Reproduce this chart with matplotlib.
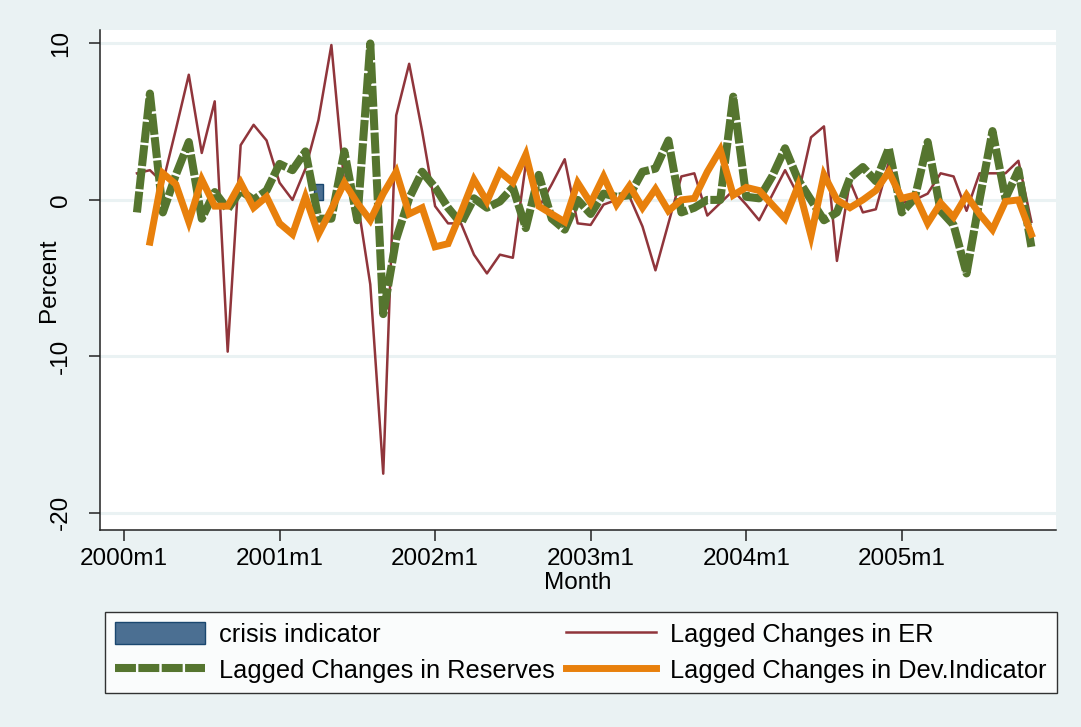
import numpy as np
import pandas as pd
import matplotlib
matplotlib.use("Agg")
import matplotlib.pyplot as plt
from matplotlib.patches import Patch
from matplotlib.lines import Line2D

plt.rcParams['font.family'] = ['Liberation Sans', 'DejaVu Sans']

# %% Donnees mensuelles (2000m2 - 2005m11)
months = pd.period_range('2000-02', '2005-11', freq='M')
# index mensuel, 0 = 2000m1
t = np.array((months.year - 2000) * 12 + months.month - 1)

# variations retardees du taux de change
er = [1.7, 1.9, 1.1, 4.5, 8.0, 3.0, 6.3, -9.7, 3.5, 4.8, 3.8, 1.1,
      0.0, 2.0, 5.1, 9.9, 1.0, 0.0, -5.4, -17.5, 5.4, 8.7, 4.4, -0.4,
      -1.5, -1.5, -3.5, -4.7, -3.5, -3.7, 2.3, -0.5, 1.0, 2.6, -1.5, -1.6,
      -0.3, 0.0, 0.2, -1.7, -4.5, -1.5, 1.5, 1.7, -1.0, -0.2, 0.6, -0.3,
      -1.3, 0.3, 1.9, 0.3, 4.0, 4.7, -3.9, 1.2, -0.8, -0.6, 2.4, -0.2,
      0.0, 0.4, 1.7, 1.5, -0.7, 1.7, 1.7, 1.7, 2.5, -1.4]

# variations retardees des reserves
reserves = [-0.8, 6.8, -0.8, 1.6, 3.7, -1.2, 0.5, -0.6, 0.6, 0.0, 0.6, 2.3,
            1.9, 3.1, -1.2, -1.2, 3.1, -1.3, 10.0, -7.3, -2.5, 0.1, 1.8, 0.8,
            -0.5, -1.5, 0.1, -0.5, -0.1, 0.8, -1.8, 1.6, -1.2, -1.9, 0.0, -0.9,
            0.4, 0.2, 0.3, 1.8, 2.0, 3.8, -0.8, -0.5, 0.0, 0.0, 6.6, 0.2,
            0.1, 1.5, 3.3, 1.3, 0.0, -1.3, -0.8, 1.4, 2.1, 1.2, 3.3, -0.8,
            0.1, 3.7, -0.7, -1.6, -4.7, 0.0, 4.4, 0.1, 1.9, -3.0]

# variations retardees de l'indicateur de deviation (debut 2000m3)
dev = [-2.7, 1.7, 1.0, -1.4, 1.3, -0.4, -0.4, 1.1, -0.5, 0.2, -1.5,
       -2.2, 0.2, -2.2, -0.6, 1.1, -0.2, -1.3, 0.4, 1.8, -0.9, -0.5, -3.0,
       -2.8, -0.8, 1.3, -0.1, 1.8, 1.1, 2.9, -0.4, -0.9, -1.4, 1.1, -0.2,
       1.5, -0.3, 0.9, -0.5, 0.7, -0.7, 0.0, 0.1, 1.8, 3.2, 0.3, 0.8,
       0.6, -0.3, -1.2, 0.9, -2.3, 1.6, 0.0, -0.5, 0.0, 0.6, 1.8, 0.1,
       0.3, -1.5, -0.2, -1.1, 0.3, -0.9, -1.9, -0.1, 0.0, -2.2]

# indicateur de crise
crisis_months = [pd.Period('2001-04', freq='M')]
crisis_vals = [1]
tc = [(p.year - 2000) * 12 + p.month - 1 for p in crisis_months]

xtick_pos = [0, 12, 24, 36, 48, 60]
xtick_labels = ['2000m1', '2001m1', '2002m1', '2003m1', '2004m1', '2005m1']
ytick_pos = [-20, -10, 0, 10]

# %% Couleurs
navy_fill = '#4b6f92'
navy = '#1a476f'
maroon = '#90353b'
green = '#55752f'
orange = '#e8800c'
bg = '#eaf2f3'

# %% Graphique
W, H = 1081, 727
fig = plt.figure(figsize=(W / 100, H / 100), dpi=100, facecolor=bg)
ax = fig.add_axes([100 / W, 1 - 530 / H, 956 / W, 500 / H])
ax.set_facecolor('white')

ax.bar(tc, crisis_vals, width=0.75, color=navy_fill, edgecolor=navy, lw=1, zorder=2)
ax.plot(t, er, color=maroon, lw=1.8, zorder=3)
ax.plot(t, reserves, color=green, lw=5.8, ls=(0, (2.6, 0.3)),
        dash_capstyle='butt', zorder=4)
ax.plot(t[1:], dev, color=orange, lw=5.0, solid_joinstyle='miter', zorder=5)

ax.set_xlim(-1.85, 71.9)
ax.set_ylim(-21.1, 10.86)
ax.set_xticks(xtick_pos)
ax.set_xticklabels(xtick_labels)
ax.set_yticks(ytick_pos)
ax.set_yticklabels([str(v) for v in ytick_pos])
for lab in ax.get_yticklabels():
    lab.set_rotation(90)
    lab.set_va('center')

ax.yaxis.grid(True, color=bg, lw=2.2)
ax.set_axisbelow(True)
for s in ['top', 'right']:
    ax.spines[s].set_visible(False)
for s in ['left', 'bottom']:
    ax.spines[s].set_color('#222222')
    ax.spines[s].set_linewidth(1.1)
ax.tick_params(axis='both', direction='out', length=8, width=1.1, colors='#222222',
               labelsize=17.5, labelcolor='black')
ax.tick_params(axis='y', pad=12)
ax.tick_params(axis='x', pad=5)

ax.set_xlabel('Month', fontsize=17.5, va='center')
ax.xaxis.set_label_coords(0.5, -(583 - 530) / 500)
ax.set_ylabel('Percent', fontsize=17.5, va='center')
ax.yaxis.set_label_coords(-(100 - 49) / 956, 0.5)

# %% Legende
handles = [
    Patch(facecolor=navy_fill, edgecolor=navy, lw=1),
    Line2D([], [], color=green, lw=5.8, ls=(0, (2.6, 0.3)), dash_capstyle='butt'),
    Line2D([], [], color=maroon, lw=1.8),
    Line2D([], [], color=orange, lw=5.0),
]
labels = ['crisis indicator', 'Lagged Changes in Reserves',
          'Lagged Changes in ER', 'Lagged Changes in Dev.Indicator']
leg = fig.legend(handles, labels, ncol=2, loc='lower left',
                 bbox_to_anchor=(105 / W, 1 - 693 / H, 952 / W, 81 / H),
                 mode='expand', frameon=True, fancybox=False, edgecolor='black',
                 fontsize=18.3, handlelength=3.55, handleheight=0.95,
                 handletextpad=0.55, borderaxespad=0, borderpad=0.4,
                 labelspacing=0.45, columnspacing=0.6)
leg.get_frame().set_linewidth(1.0)
leg.get_frame().set_facecolor('white')

fig.savefig('out.png', dpi=100, facecolor=fig.get_facecolor())
